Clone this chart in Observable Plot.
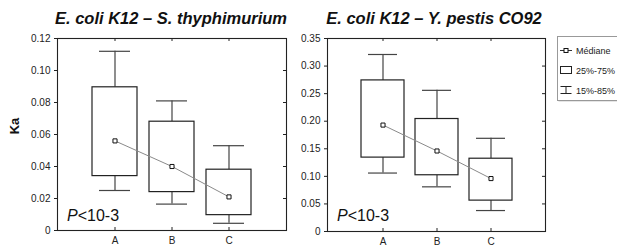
<!DOCTYPE html>
<html><head><meta charset="utf-8">
<script src="https://cdn.jsdelivr.net/npm/d3@7"></script>
<script src="https://cdn.jsdelivr.net/npm/@observablehq/plot@0.6"></script>
<style>
body{margin:0;background:#fff;}
#c{position:relative;width:617px;height:247px;overflow:hidden;font-family:"Liberation Sans",Arial,sans-serif;background:#fff;}
#c > svg{position:absolute;top:0;}
</style></head>
<body><div id="c"></div>
<script>
const categories = ["A", "B", "C"];
// E. coli K12 – S. thyphimurium
const stLow  = [0.025, 0.0165, 0.0045];
const stQ1   = [0.034, 0.024, 0.0096];
const stMed  = [0.056, 0.040, 0.021];
const stQ3   = [0.0895, 0.068, 0.038];
const stHigh = [0.112, 0.081, 0.053];
const stTicks = [0, 0.02, 0.04, 0.06, 0.08, 0.10, 0.12];
// E. coli K12 – Y. pestis CO92
const ypLow  = [0.106, 0.081, 0.038];
const ypQ1   = [0.134, 0.102, 0.056];
const ypMed  = [0.193, 0.146, 0.096];
const ypQ3   = [0.274, 0.204, 0.132];
const ypHigh = [0.321, 0.256, 0.169];
const ypTicks = [0, 0.05, 0.10, 0.15, 0.20, 0.25, 0.30, 0.35];

const titles = ["E. coli K12 – S. thyphimurium", "E. coli K12 – Y. pestis CO92"];
const yLabel = "Ka";
const pText = ["P", "<10-3"];
const legendLabels = ["Médiane", "25%-75%", "15%-85%"];

function rows(low, q1, med, q3, high) {
  return categories.map((c, i) => ({cat: c, low: low[i], q1: q1[i], med: med[i], q3: q3[i], high: high[i]}));
}
const fmt = d => d === 0 ? "0" : d.toFixed(2);

function panel(data, ticks, opts) {
  const ymax = ticks[ticks.length - 1];
  const W = opts.width - 57 - opts.mr;
  const H = 247 - 38 - opts.mb;
  return Plot.plot({
    width: opts.width, height: 247,
    marginLeft: 57, marginRight: opts.mr, marginTop: 38, marginBottom: opts.mb,
    style: {background: "transparent", overflow: "visible", fontFamily: "'Liberation Sans', Arial, sans-serif", fontSize: "10px", color: "#222"},
    x: {type: "band", domain: categories, paddingInner: 0.21, paddingOuter: 0.605, axis: "bottom", tickSize: 0, tickPadding: 6, label: null},
    y: {domain: [0, ymax], axis: "left", ticks, tickFormat: fmt, tickSize: 3, tickPadding: 4, label: null},
    marks: [
      Plot.ruleX(data, {x: "cat", y1: "low", y2: "q1", stroke: "#444", strokeWidth: 1.2}),
      Plot.ruleX(data, {x: "cat", y1: "q3", y2: "high", stroke: "#444", strokeWidth: 1.2}),
      Plot.tickY(data, {x: "cat", y: "low", stroke: "#444", strokeWidth: 1.2, insetLeft: 7, insetRight: 7}),
      Plot.tickY(data, {x: "cat", y: "high", stroke: "#444", strokeWidth: 1.2, insetLeft: 7, insetRight: 7}),
      Plot.barY(data, {x: "cat", y1: "q1", y2: "q3", fill: "white", stroke: "#222", strokeWidth: 1.2}),
      Plot.line(data, {x: "cat", y: "med", stroke: "#8a8a8a", strokeWidth: 1}),
      Plot.dot(data, {x: "cat", y: "med", symbol: "square", r: 2.3, fill: "white", stroke: "#111", strokeWidth: 1}),
      // inner ticks on right, top and bottom edges
      Plot.tickY(ticks, {y: d => d, stroke: "#222", insetLeft: W - 3}),
      Plot.tickX(categories, {x: d => d, stroke: "#222", insetBottom: H - 3}),
      Plot.tickX(categories, {x: d => d, stroke: "#222", insetTop: H - 3}),
      Plot.frame({stroke: "#222", strokeWidth: 1.1})
    ]
  });
}

const c = document.getElementById("c");
const p1 = panel(rows(stLow, stQ1, stMed, stQ3, stHigh), stTicks, {width: 300, mr: 14, mb: 17});
p1.style.left = "0px";
const p2 = panel(rows(ypLow, ypQ1, ypMed, ypQ3, ypHigh), ypTicks, {width: 290, mr: 15, mb: 16});
p2.style.left = "270px";
c.appendChild(p1);
c.appendChild(p2);

// overlay: titles, axis label, annotations, legend
const ns = "http://www.w3.org/2000/svg";
const ov = document.createElementNS(ns, "svg");
ov.setAttribute("width", 617); ov.setAttribute("height", 247);
ov.style.position = "absolute"; ov.style.left = "0px"; ov.style.top = "0px";
ov.setAttribute("font-family", "'Liberation Sans', Arial, sans-serif");
function el(tag, attrs, text) {
  const e = document.createElementNS(ns, tag);
  for (const k in attrs) e.setAttribute(k, attrs[k]);
  if (text != null) e.textContent = text;
  ov.appendChild(e);
  return e;
}
el("text", {x: 171, y: 24, "text-anchor": "middle", "font-size": 16.5, "font-weight": "bold", "font-style": "italic", fill: "#111"}, titles[0]);
el("text", {x: 434, y: 24, "text-anchor": "middle", "font-size": 16.5, "font-weight": "bold", "font-style": "italic", fill: "#111"}, titles[1]);
el("text", {x: 0, y: 0, "text-anchor": "middle", "font-size": 13, "font-weight": "bold", fill: "#111", transform: "translate(19,126) rotate(-90)"}, yLabel);
[[67, 221], [337, 221]].forEach(([x, y]) => {
  const t = el("text", {x, y, "font-size": 16, fill: "#111"});
  const a = document.createElementNS(ns, "tspan"); a.setAttribute("font-style", "italic"); a.textContent = pText[0];
  const b = document.createElementNS(ns, "tspan"); b.textContent = pText[1];
  t.appendChild(a); t.appendChild(b);
});
// legend
el("rect", {x: 558.5, y: 37.5, width: 70, height: 64, fill: "#ccc", stroke: "none"});
el("rect", {x: 557.5, y: 36.5, width: 70, height: 64, fill: "white", stroke: "#999", "stroke-width": 1});
el("line", {x1: 560, x2: 572, y1: 50.5, y2: 50.5, stroke: "#333", "stroke-width": 1});
el("rect", {x: 564, y: 48.5, width: 4, height: 4, fill: "white", stroke: "#111", "stroke-width": 1});
el("rect", {x: 560.5, y: 66.5, width: 11, height: 7, fill: "white", stroke: "#222", "stroke-width": 1});
el("path", {d: "M560.5,86.5H571.5M566,86.5V93.5M560.5,93.5H571.5", fill: "none", stroke: "#222", "stroke-width": 1});
legendLabels.forEach((s, i) => el("text", {x: 576, y: 54 + i * 20, "font-size": 9, fill: "#222"}, s));
c.appendChild(ov);
</script>
</body></html>
